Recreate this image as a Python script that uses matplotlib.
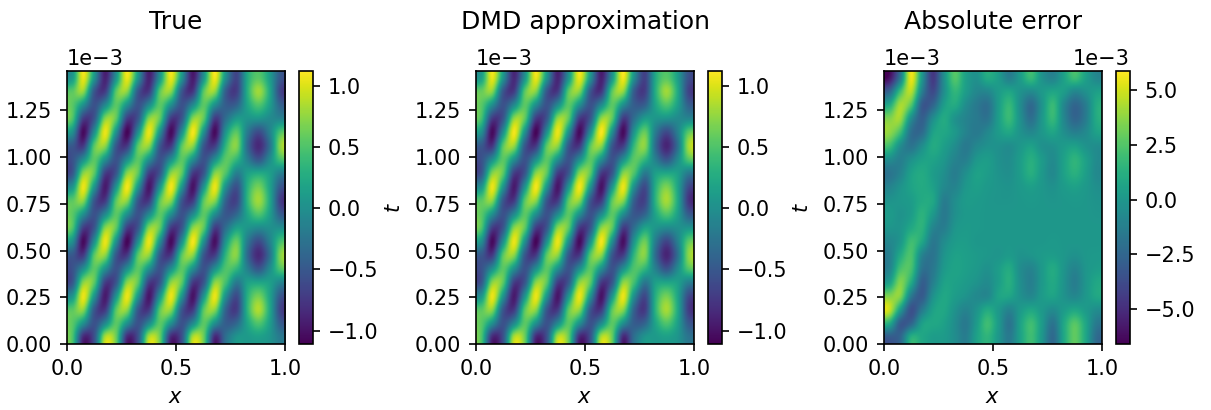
import numpy as np
import matplotlib
matplotlib.use("Agg")
import matplotlib.pyplot as plt

# rows listed from the top of each panel (t high) to the bottom (t low)
true_field = [
 [ .10,1.05, .05,-.90, .05,1.05, .05,-.90, .05,1.05, .05,-.95, .05,1.08, .00,-.65, .25, .55, .15,-.50],
 [ .55, .75,-.50,-.70, .55, .72,-.50,-.72, .55, .72,-.50,-.75, .55, .75,-.45,-.70, .30, .80, .25,-.65],
 [ .55, .00,-.55,-.05, .55, .00,-.55,-.05, .55, .00,-.55,-.05, .55, .00,-.45,-.40, .20, .50, .15,-.40],
 [ .50,-.70,-.50, .72, .55,-.70,-.50, .72, .55,-.72,-.50, .72, .55,-.72,-.30, .10, .05, .05,-.05,-.10],
 [ .00,-1.05,.00,1.05, .00,-1.08,.00,1.05,.00,-1.05,.00,1.08, .00,-1.05,.05, .55,-.20,-.60,-.15, .50],
 [-.50,-.72, .55, .72,-.50,-.72, .55, .72,-.50,-.72, .55, .72,-.50,-.70, .35, .70,-.35,-.85,-.30, .75],
 [-.55, .00, .55, .00,-.55, .00, .55, .00,-.55, .00, .55, .00,-.55, .00, .55, .35,-.15,-.50,-.05, .45],
 [-.50, .72, .55,-.70,-.50, .72, .55,-.70,-.50, .72, .55,-.72,-.50, .70, .50,-.15, .15, .25, .15,-.15],
 [ .05,1.05, .05,-.95, .05,1.08, .05,-.98, .05,1.08, .05,-1.0, .05,1.05, .00,-.55, .30, .65, .20,-.50],
 [ .55, .72,-.50,-.72, .55, .72,-.50,-.72, .55, .72,-.50,-.72, .55, .72,-.40,-.65, .35, .80, .25,-.70],
 [ .55, .00,-.55,-.05, .55, .00,-.55,-.05, .55, .00,-.55,-.05, .55, .00,-.50,-.35, .20, .50, .15,-.45],
 [ .50,-.70,-.50, .72, .55,-.70,-.50, .72, .55,-.72,-.50, .72, .55,-.70,-.30, .15, .05,-.05, .00, .00],
 [ .00,-1.05,.00,1.05, .00,-1.08,.00,1.05,.00,-1.05,.00,1.08, .00,-1.02,.05, .60,-.20,-.60,-.15, .45],
 [-.50,-.72, .55, .72,-.50,-.72, .55, .72,-.50,-.72, .55, .72,-.50,-.70, .35, .70,-.35,-.85,-.30, .70],
 [-.55, .00, .55, .00,-.55, .00, .55, .00,-.55, .00, .55, .00,-.55, .00, .50, .35,-.15,-.50,-.05, .50],
 [-.50, .72, .55,-.70,-.50, .72, .55,-.70,-.50, .72, .55,-.72,-.50, .72, .45,-.20, .15, .20, .15,-.10],
 [ .05,1.05, .05,-.95, .05,1.05, .05,-.98, .05,1.05, .05,-1.0, .05,1.05, .00,-.60, .30, .65, .20,-.50],
 [ .55, .72,-.50,-.72, .55, .72,-.50,-.72, .55, .72,-.50,-.72, .55, .72,-.40,-.70, .35, .85, .25,-.65],
 [ .55, .00,-.55,-.05, .55, .00,-.55,-.05, .55, .00,-.55,-.05, .55, .00,-.45,-.35, .20, .50, .15,-.45],
 [ .50,-.85,-.55, .85, .60,-.85,-.55, .85, .60,-.85,-.55, .85, .60,-.85,-.30, .05, .10, .15, .05,-.20],
]

dmd_field = [
 [ .15,1.05, .05,-.85, .05,1.05, .05,-.88, .05,1.05, .05,-.92, .05,1.08, .00,-.68, .25, .55, .15,-.55],
 [ .60, .72,-.50,-.70, .55, .70,-.50,-.72, .55, .70,-.50,-.75, .55, .75,-.45,-.70, .30, .80, .25,-.65],
 [ .55,-.02,-.55,-.05, .55,-.02,-.55,-.05, .55, .00,-.55,-.05, .55, .00,-.45,-.42, .20, .50, .15,-.42],
 [ .45,-.72,-.50, .75, .55,-.72,-.50, .75, .55,-.72,-.50, .75, .55,-.72,-.30, .12, .05, .02,-.05,-.08],
 [ .00,-1.05,.00,1.08, .00,-1.08,.00,1.05,.00,-1.05,.00,1.10, .00,-1.05,.05, .60,-.20,-.62,-.15, .55],
 [-.50,-.75, .55, .75,-.50,-.72, .55, .72,-.50,-.72, .55, .72,-.50,-.70, .38, .72,-.35,-.88,-.30, .80],
 [-.55, .00, .55, .00,-.55, .00, .55, .00,-.55, .00, .55, .00,-.55, .00, .55, .35,-.15,-.50,-.05, .50],
 [-.50, .70, .55,-.70,-.50, .72, .55,-.70,-.50, .72, .55,-.72,-.50, .70, .50,-.20, .15, .22, .15,-.20],
 [ .05,1.05, .05,-.95, .05,1.08, .05,-.98, .05,1.08, .05,-1.0, .05,1.05, .00,-.60, .30, .68, .20,-.60],
 [ .55, .72,-.50,-.72, .55, .72,-.50,-.72, .55, .72,-.50,-.72, .55, .72,-.42,-.65, .35, .82, .25,-.75],
 [ .55, .00,-.55,-.05, .55, .00,-.55,-.05, .55, .00,-.55,-.05, .55, .00,-.50,-.38, .20, .50, .15,-.45],
 [ .50,-.70,-.50, .72, .55,-.70,-.50, .72, .55,-.72,-.50, .72, .55,-.70,-.30, .18, .05,-.05, .00, .05],
 [ .00,-1.05,.00,1.05, .00,-1.08,.00,1.05,.00,-1.05,.00,1.08, .00,-1.02,.05, .62,-.20,-.65,-.15, .55],
 [-.50,-.72, .55, .72,-.50,-.72, .55, .72,-.50,-.72, .55, .72,-.50,-.70, .35, .70,-.35,-.88,-.30, .72],
 [-.55, .00, .55, .00,-.55, .00, .55, .00,-.55, .00, .55, .00,-.55, .00, .50, .35,-.15,-.52,-.05, .50],
 [-.50, .72, .55,-.70,-.50, .72, .55,-.70,-.50, .72, .55,-.72,-.50, .72, .45,-.22, .15, .20, .15,-.15],
 [ .05,1.05, .05,-.95, .05,1.05, .05,-.98, .05,1.05, .05,-1.0, .05,1.05, .00,-.62, .30, .65, .20,-.60],
 [ .55, .72,-.50,-.72, .55, .72,-.50,-.72, .55, .72,-.50,-.72, .55, .72,-.40,-.72, .35, .82, .25,-.70],
 [ .55, .00,-.55,-.05, .55, .00,-.55,-.05, .55, .00,-.55,-.05, .55, .00,-.45,-.38, .20, .50, .15,-.48],
 [ .50,-.85,-.55, .85, .60,-.85,-.55, .85, .60,-.85,-.55, .85, .60,-.85,-.30, .05, .10, .15, .05,-.25],
]

# absolute error panel, in units of 1e-3
error_field = [
 [-6.0,-1.5, 5.5, 0.0,-4.5,-0.5, 2.5, 0.5,-0.3, 1.0, 0.3,-1.2, 0.2, 1.8,-0.2,-1.0, 0.5, 2.0, 0.5,-0.8],
 [-2.5, 2.0, 4.5,-1.2,-3.8,-0.5, 1.6, 0.3,-0.8,-0.8, 0.2, 0.7,-0.2,-0.6, 0.1, 0.7, 0.3,-0.8,-0.3, 0.4],
 [ 1.0, 4.2, 2.5,-3.0,-2.5, 0.3, 1.0,-0.5,-1.5,-2.0, 0.2, 1.7,-0.5,-2.3,-0.2, 1.8,-0.8,-2.5,-1.4, 1.0],
 [ 3.5, 4.0,-0.5,-2.8,-0.5, 1.0,-0.2,-1.0,-1.5,-1.8, 0.3, 1.8,-0.3,-2.0, 0.0, 1.7,-0.8,-2.5,-1.4, 1.0],
 [ 3.8, 2.0,-2.0,-2.2, 0.5, 0.8, 0.1,-1.0,-1.5,-0.8, 0.2, 0.8,-0.2,-0.8, 0.0, 0.7,-0.4,-1.2,-0.7, 0.5],
 [ 2.0,-0.5,-1.8,-0.5, 1.0, 0.4,-0.5,-1.5,-0.8,-0.3,-0.3,-0.5, 0.0, 0.5,-0.3,-0.3, 0.2, 0.5,-0.2,-0.5],
 [-0.5,-1.2,-0.3, 0.5, 0.6, 0.0,-1.0,-1.2, 0.0, 0.3,-0.3,-0.5, 0.3, 1.2, 0.2,-0.6, 0.5, 1.5, 0.5,-0.6],
 [-1.8,-1.0, 0.5, 1.0, 0.3,-0.4,-1.3,-0.4, 0.5, 0.3,-0.2,-0.4, 0.3, 1.2, 0.1,-0.7, 0.5, 1.3, 0.4,-0.7],
 [-1.0,-0.2, 0.6, 1.0, 0.5,-0.7,-1.0, 0.0, 0.4, 0.1,-0.1,-0.2, 0.1, 0.4, 0.0,-0.3, 0.2, 0.5, 0.1,-0.4],
 [-0.2, 0.0, 0.3, 1.0, 0.8,-1.3,-0.5, 0.2, 0.2, 0.0,-0.1,-0.1, 0.0, 0.1, 0.0,-0.1, 0.0, 0.1, 0.0,-0.2],
 [ 0.2,-0.2, 0.3, 1.4, 0.1,-1.5,-0.4, 0.1, 0.1, 0.0, 0.0, 0.0, 0.0, 0.0, 0.0, 0.0, 0.0, 0.0, 0.0,-0.1],
 [-0.1,-0.1, 0.9, 1.4,-0.9,-1.3,-0.1, 0.2, 0.1, 0.0, 0.0, 0.0, 0.0, 0.0, 0.0, 0.0, 0.0, 0.0, 0.0, 0.0],
 [-0.8, 0.0, 2.0, 0.8,-1.6,-0.6, 0.2, 0.3, 0.0, 0.0, 0.0, 0.0, 0.0, 0.0, 0.0, 0.1, 0.0, 0.0, 0.0, 0.0],
 [-1.2, 1.0, 2.3,-1.0,-1.8,-0.2, 0.5, 0.4, 0.2, 0.0,-0.1, 0.2,-0.2,-0.1, 0.2, 0.3, 0.0,-0.3, 0.0, 0.1],
 [-1.0, 2.2, 2.2,-1.8,-1.6, 0.1, 0.6, 0.4, 0.1,-0.3, 0.3, 1.0,-0.5,-1.0, 0.1, 1.0,-0.1,-1.0,-0.1, 0.3],
 [ 0.5, 3.5, 1.0,-2.8,-1.2, 0.5, 0.5, 0.2,-0.2,-0.6, 0.3, 1.2,-0.4,-1.2, 0.1, 0.9,-0.2,-1.3,-0.1, 0.8],
 [ 3.5, 3.5,-1.5,-3.0,-0.3, 0.8, 0.3,-0.2,-0.7,-0.8, 0.6, 0.7,-0.3,-0.8, 0.2, 0.6,-0.2,-0.8, 0.0, 0.8],
 [ 4.8, 0.3,-3.5,-1.5, 0.5, 0.8,-0.2,-1.0,-0.2, 1.0, 0.1,-1.0, 0.1, 0.8, 0.1,-0.6, 0.2, 0.8, 0.2,-0.5],
 [ 1.0,-3.0,-2.5, 0.4, 0.8, 0.5,-0.5,-1.5, 0.2, 2.0, 0.2,-1.8, 0.5, 2.0, 0.2,-1.8, 0.8, 2.6, 0.8,-1.5],
 [-3.0,-2.5, 1.2, 0.8, 0.3, 0.2,-0.5,-1.3, 0.5, 1.5, 0.0,-1.5, 0.5, 2.0, 0.0,-2.3, 0.8, 2.8, 0.8,-2.2],
]

titles = ["True", "DMD approximation", "Absolute error"]
fields = [np.array(true_field), np.array(dmd_field), np.array(error_field) * 1e-3]
limits = [(-1.11, 1.12), (-1.11, 1.12), (-6.6e-3, 5.87e-3)]
cbar_ticks = [[-1, -.5, 0, .5, 1], [-1, -.5, 0, .5, 1],
              [-5e-3, -2.5e-3, 0, 2.5e-3, 5e-3]]
ylabels = ["", "$t$", "$t$"]
t_max = 1.46e-3

W, H = 1211, 410
DPI = 150
fig = plt.figure(figsize=(W / DPI, H / DPI), dpi=DPI)

ax_left = [67, 476, 884]
cb_left = [299, 708, 1116]
top, bottom = 71, 344
title_base = 29

for i in range(3):
    ax = fig.add_axes([ax_left[i] / W, 1 - bottom / H, 218 / W, (bottom - top) / H])
    cax = fig.add_axes([cb_left[i] / W, 1 - bottom / H, 14 / W, (bottom - top) / H])
    im = ax.imshow(fields[i], cmap="viridis", origin="upper", aspect="auto",
                   extent=[0, 1, 0, t_max], interpolation="catrom",
                   vmin=limits[i][0], vmax=limits[i][1])
    ax.set_xticks([0, 0.5, 1.0])
    ax.set_yticks(np.array([0, 0.25, 0.5, 0.75, 1.0, 1.25]) * 1e-3)
    ax.ticklabel_format(style="sci", axis="y", scilimits=(0, 0))
    ax.set_xlabel("$x$")
    if ylabels[i]:
        ax.set_ylabel(ylabels[i], labelpad=5.5)
    ax.set_title(titles[i], y=1 + (top - title_base) / (bottom - top), pad=0)
    cb = fig.colorbar(im, cax=cax)
    cb.set_ticks(cbar_ticks[i])
    if i == 2:
        cax.ticklabel_format(style="sci", axis="y", scilimits=(0, 0))

fig.savefig("out.png", dpi=DPI)
